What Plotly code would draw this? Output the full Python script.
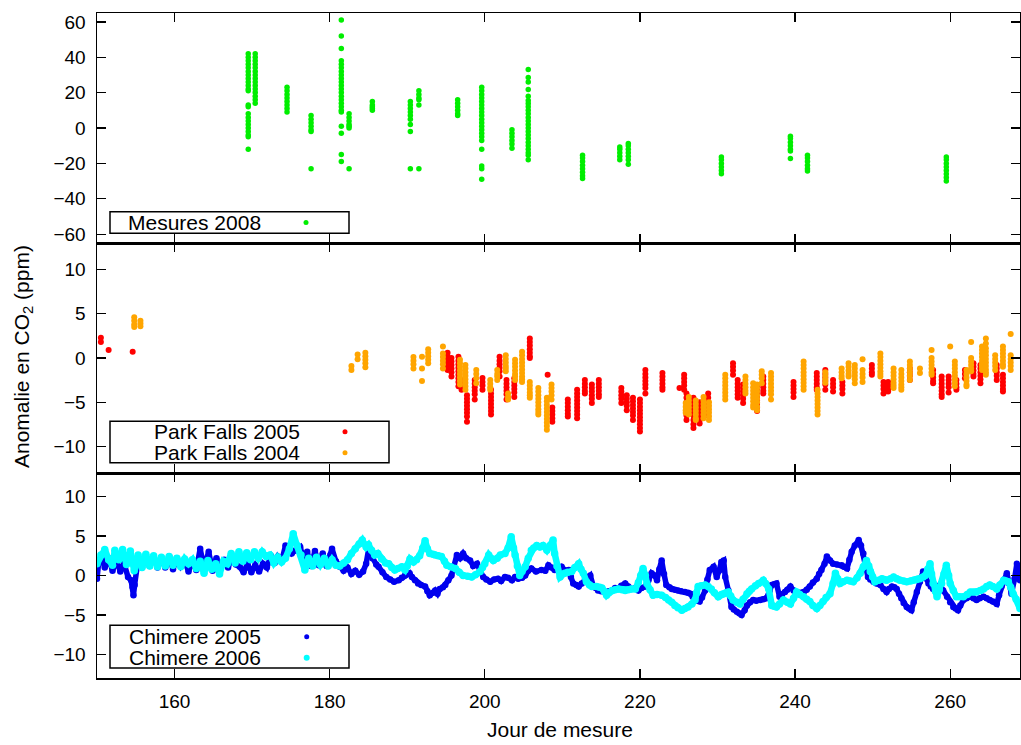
import plotly.graph_objects as go

# ---------------- data ----------------
# Mesures 2008: (day, [anomalies ppm])
mesures_2008 = [
    (169.5, [42, 40, 38, 36, 34, 32, 30, 28, 26, 24, 22, 21, 13, 12, 8, 6, 4, 2, 0, -2, -4, -5, -12]),
    (170.4, [42, 40, 38, 36, 34, 32, 30, 28, 26, 24, 22, 20, 18, 16, 14]),
    (174.5, [23, 21, 19, 17, 15, 13, 11, 9]),
    (177.6, [7, 5, 3, 1, -1, -2, -23]),
    (181.5, [61, 52, 45, 38, 36, 34, 32, 30, 28, 26, 24, 22, 20, 18, 16, 14, 12, 10, 9, 1, -3, -15, -19]),
    (182.5, [8, 6, 4, 2, 1, 0, -23]),
    (185.5, [15, 13, 12, 11, 10]),
    (190.4, [15, 13, 11, 9, 7, 5, 2, -2, -23]),
    (191.5, [21, 19, 17, 16, 13, -23]),
    (196.5, [16, 14, 12, 10, 8, 7]),
    (199.6, [23, 21, 19, 17, 15, 13, 11, 9, 7, 5, 3, 1, -1, -3, -5, -7, -12, -21.5, -23, -29]),
    (203.5, [-1, -3, -5, -7, -9, -11.5]),
    (205.6, [33, 28.5, 26, 21.7, 18, 15.6, 13.8, 12, 10, 8, 6, 4, 2, 0, -2, -4, -6, -8, -10, -12, -14, -15.4, -18]),
    (212.6, [-15.4, -17, -19, -21, -23, -25, -27, -28.6]),
    (217.4, [-10.7, -12, -14, -16, -18]),
    (218.5, [-8.8, -10, -12, -14, -16, -18, -20.5]),
    (230.5, [-16.4, -18, -20, -22, -24, -25.8]),
    (239.4, [-4.7, -6, -8, -10, -12, -13, -17.3]),
    (241.6, [-15.4, -17, -19, -21, -23, -24.3]),
    (259.5, [-16.4, -18, -20, -22, -24, -26, -28, -30]),
]

# Park Falls 2005 (red)
park_falls_2005 = [
    (150.5, [2.3, 1.8]), (151.5, [0.9]), (154.6, [0.7]),
    (195.2, [0.6, 0.2, -0.2, -0.6, -1.0, -1.35]),
    (195.7, [0.0, -0.4, -0.8, -1.2, -1.6, -2.1]),
    (196.6, [0.15, -0.3, -0.7, -1.1, -1.5, -1.9, -2.3, -2.7, -3.2]),
    (197.0, [-2.5, -3.0, -3.6]),
    (197.7, [-4.2, -4.6, -5.0, -5.4, -5.8, -6.2, -6.6, -7.2]),
    (198.7, [-2.5, -2.9, -3.3, -3.7, -4.1, -4.7]),
    (199.7, [-2.25, -2.7, -3.1, -3.6]),
    (200.8, [-3.6, -4.0, -4.4, -4.8, -5.2, -5.6, -6.0, -6.4]),
    (201.9, [0.15, -0.3, -0.7, -1.1, -1.5, -2.1]),
    (202.8, [-2.5, -2.9, -3.3, -3.7, -4.1, -4.7]),
    (203.8, [-2.3, -2.7, -3.1, -3.5, -3.9, -4.4]),
    (205.8, [2.2, 1.8, 1.4, 1.0, 0.6, 0.2, 0.0]),
    (208.1, [-1.9]),
    (208.7, [-5.6, -6.0, -6.4, -6.8, -7.2]),
    (210.7, [-4.7, -5.1, -5.5, -5.9, -6.3, -6.6]),
    (211.9, [-3.6, -4.0, -4.4, -4.8, -5.2, -5.6, -6.0, -6.4, -6.8]),
    (212.9, [-2.5, -2.9, -3.3, -3.7, -4.0]),
    (213.8, [-3.0, -3.4, -3.8, -4.2, -4.6, -5.1]),
    (214.7, [-2.5, -2.9, -3.3, -3.7, -4.1, -4.4]),
    (217.6, [-3.4, -3.8, -4.2, -4.6, -5.1]),
    (218.3, [-4.2, -4.6, -5.0, -5.4, -5.9]),
    (219.1, [-4.5, -4.9, -5.3, -5.7, -6.1, -6.5, -7.0]),
    (220.0, [-4.7, -5.1, -5.5, -5.9, -6.3, -6.7, -7.1, -7.5, -7.9, -8.3]),
    (220.7, [-1.35, -1.8, -2.2, -2.6, -3.0, -3.4, -4.0]),
    (222.9, [-1.7, -2.1, -2.5, -2.9, -3.3, -3.6]),
    (225.1, [-3.4]),
    (225.7, [-1.9, -2.3, -2.7, -3.1, -3.6]),
    (226.0, [-4.0, -4.5, -5.0, -5.5, -6.0, -6.5, -7.0]),
    (226.9, [-4.5, -5.0, -5.5, -6.0, -6.5, -7.0, -7.5, -7.9]),
    (227.7, [-5.0, -5.5, -6.0, -6.5, -7.0, -7.4]),
    (228.8, [-4.0, -4.5, -5.0, -5.5, -6.0, -6.5]),
    (232.0, [-0.6, -1.0, -1.4, -1.9]),
    (232.6, [-2.5, -2.9, -3.3, -3.7, -4.1, -4.5]),
    (233.3, [-3.0, -3.4, -3.8, -4.2, -4.6, -5.1]),
    (235.1, [-3.2, -3.6, -4.0, -4.4, -4.8, -5.2, -5.6, -6.0]),
    (235.9, [-2.1, -2.5, -2.9, -3.3, -3.7, -4.0]),
    (239.8, [-2.7, -3.1, -3.5, -3.9, -4.4]),
    (242.8, [-1.7, -2.1, -2.5, -2.9, -3.3, -3.6]),
    (243.9, [-1.35, -1.8, -2.2, -2.6, -3.0, -3.6]),
    (244.9, [-2.5, -2.9, -3.3, -3.8]),
    (246.1, [-2.7, -3.1, -3.5, -4.0]),
    (249.9, [-0.8, -1.2, -1.6, -1.9]),
    (251.4, [-2.7, -3.1, -3.5, -4.0]),
    (252.0, [-2.7, -3.1, -3.5, -3.8]),
    (254.8, [-1.2, -1.6, -2.0, -2.5]),
    (257.8, [-1.35, -1.8, -2.2, -2.6, -2.85]),
    (258.9, [-2.1, -2.5, -2.9, -3.3, -3.7, -4.1, -4.4]),
    (259.8, [-2.1, -2.5, -2.9, -3.3, -3.9]),
    (260.8, [-2.5, -2.9, -3.3, -3.6]),
    (261.9, [-1.35, -1.8, -2.3]),
    (263.0, [-0.6, -1.0, -1.4, -1.8, -2.1]),
    (263.9, [-0.8, -1.2, -1.6, -2.0, -2.4, -2.85]),
    (266.0, [-0.8, -1.2, -1.6, -2.0, -2.5]),
    (266.8, [-1.9, -2.3, -2.7, -3.1, -3.5, -3.8]),
]

# Park Falls 2004 (orange)
park_falls_2004 = [
    (154.8, [4.6, 4.2, 3.8, 3.5]), (155.6, [4.2, 3.9, 3.6]),
    (182.8, [-0.9, -1.35]), (183.6, [0.4, -0.15]),
    (184.6, [0.6, 0.2, -0.2, -0.6, -1.05]),
    (190.8, [0.1, -0.3, -0.7, -1.2]),
    (191.9, [0.15, -1.2, -2.6]),
    (192.7, [1.0, 0.6, 0.2, -0.2, -0.6]),
    (194.6, [1.3, 0.5, 0.1, -0.3, -0.7, -1.2]),
    (196.8, [-0.2, -0.6, -1.0, -1.4, -1.8, -2.2, -2.6, -3.0]),
    (197.5, [-0.8, -1.2, -1.6, -2.0, -2.4, -2.8, -3.2, -3.6]),
    (198.9, [-1.35, -1.8, -2.3, -2.85]),
    (200.7, [-2.5, -2.9, -3.3, -3.6]),
    (201.6, [-1.35, -1.8, -2.1, -2.5]),
    (202.7, [0.3, -0.1, -0.5, -0.9, -1.2, -1.5]),
    (203.0, [-4.0, -4.4, -4.7]),
    (203.9, [-0.2, -0.6, -1.0, -1.4, -1.8, -2.1, -2.5]),
    (204.8, [0.7, 0.3, -0.1, -0.5, -0.9, -1.3, -1.7, -2.1, -2.4, -2.7]),
    (205.8, [-2.7, -3.1, -3.5, -3.9, -4.2, -4.5]),
    (206.9, [-3.4, -3.8, -4.2, -4.6, -5.0, -5.4, -5.8, -6.1, -6.4]),
    (208.0, [-4.5, -4.9, -5.3, -5.7, -6.1, -6.5, -6.9, -7.3, -7.7, -8.1]),
    (208.6, [-3.0, -3.4, -3.8, -4.2, -4.7]),
    (225.9, [-5.1, -5.5, -5.9, -6.2]),
    (226.3, [-4.4, -4.8, -5.2, -5.6, -6.0, -6.4]),
    (227.2, [-4.8, -5.2, -5.6, -6.0, -6.4, -6.8, -7.0]),
    (228.2, [-4.4, -4.8, -5.2, -5.6, -6.0, -6.4, -6.8]),
    (228.9, [-5.0, -5.4, -5.8, -6.2, -6.6, -7.0]),
    (231.0, [-1.9, -2.3, -2.7, -3.1, -3.5, -3.9, -4.3, -4.7]),
    (233.6, [-2.1, -2.5, -2.9, -3.3, -3.7, -4.0]),
    (234.6, [-2.85, -3.3, -3.7, -4.1, -4.5, -4.9, -5.3, -5.6]),
    (235.1, [-3.0, -3.4, -3.8, -4.2, -4.6, -5.0, -5.5, -5.9]),
    (235.7, [-1.5, -1.9, -2.3, -2.85]),
    (236.9, [-1.7, -2.1, -2.5, -2.9, -3.3, -3.7, -4.1, -4.7]),
    (241.1, [-0.4, -0.8, -1.2, -1.6, -2.0, -2.4, -2.8, -3.2, -3.6]),
    (242.9, [-3.6, -4.0, -4.4, -4.8, -5.2, -5.6, -6.0, -6.4]),
    (243.9, [-1.6, -2.0, -2.4, -2.8]),
    (246.0, [-1.2, -1.6, -2.0, -2.3]),
    (246.9, [-0.6, -1.0, -1.4, -1.8, -2.1]),
    (247.7, [-0.8, -1.2, -1.6, -2.0, -2.4, -2.85]),
    (248.7, [-0.15, -1.35, -1.8, -2.2, -2.7]),
    (251.0, [0.5, 0.1, -0.3, -0.7, -1.1, -1.5, -1.8, -2.1]),
    (252.7, [-1.2, -1.6, -2.0, -2.4, -2.8, -3.1, -3.4]),
    (253.7, [-1.35, -1.8, -2.2, -2.6, -3.0, -3.3, -3.6]),
    (254.8, [-0.4, -0.8, -1.2, -1.6, -2.0, -2.5]),
    (256.1, [-1.2, -1.7]),
    (257.6, [0.9, 0.0, -0.4, -0.8, -1.2, -1.6, -1.9]),
    (260.0, [1.3]),
    (260.6, [-0.4, -0.8, -1.2, -1.6, -2.0, -2.4, -2.8, -3.2]),
    (262.1, [-1.35, -1.8, -2.2, -2.6, -3.0, -3.2]),
    (262.7, [1.8, 0.0, -0.4, -0.8, -1.2, -1.5]),
    (264.1, [1.3, 0.9, 0.5, 0.1, -0.3, -0.7, -1.0, -1.35]),
    (264.6, [2.2, 1.65, 1.1, 0.7, 0.3, -0.1, -0.5, -0.9, -1.3, -1.6, -1.9]),
    (265.8, [0.3, -0.1, -0.5, -0.9, -1.35]),
    (266.8, [1.3, 0.9, 0.5, 0.1, -0.3, -0.7, -1.0]),
    (267.8, [2.7, 0.3, -0.1, -0.5, -0.9, -1.35]),
]

# Chimere 2005 (blue): (day, anomaly)
chimere_2005 = [
    (150.0,-0.4),(150.2,1.5),(150.6,2.5),(151.0,1.0),(151.5,2.2),(152.0,0.6),(152.5,2.0),(153.0,0.5),
    (153.5,1.5),(154.0,-0.2),(154.4,-0.6),(154.6,-1.5),(154.7,-2.5),(154.85,-1.2),(155.0,0.5),(155.3,2.0),
    (155.8,1.0),(156.3,2.6),(156.8,1.2),(157.3,2.4),(157.8,1.0),(158.3,2.2),(158.8,1.0),(159.3,2.4),
    (159.8,0.8),(160.3,2.2),(160.8,1.2),(161.3,1.9),(161.8,0.5),(162.3,1.8),(162.8,0.7),(163.3,3.4),
    (163.8,1.0),(164.4,3.0),(164.9,0.6),(165.4,2.2),(165.9,0.8),(166.4,2.0),(166.9,1.0),(167.4,2.4),
    (167.9,1.4),(168.4,1.1),(168.9,0.4),(169.4,1.5),(169.9,0.4),(170.4,1.3),(170.9,0.5),(171.4,1.5),
    (171.9,1.0),(172.4,2.5),(172.9,1.6),(173.3,2.4),(173.8,1.8),(174.3,3.8),(174.8,3.2),(175.1,2.8),
    (175.6,3.2),(176.2,3.6),(176.6,2.2),(177.1,3.0),(177.6,1.2),(178.1,3.1),(178.6,1.3),(179.1,2.8),
    (179.6,1.2),(180.1,2.6),(180.3,3.4),(180.8,1.8),(181.3,1.1),(181.8,0.6),(182.3,1.0),(182.8,0.2),
    (183.3,0.6),(183.8,0.1),(184.3,0.5),(184.7,1.5),(185.0,3.2),(185.5,2.2),(186.0,1.4),(186.3,1.1),
    (186.8,0.4),(187.3,-0.2),(187.8,-0.5),(188.3,-0.8),(188.9,-0.6),(189.3,-0.3),(189.7,0.0),(190.3,0.3),
    (190.6,-0.2),(191.0,-0.6),(191.4,-1.0),(191.8,-1.2),(192.3,-1.4),(192.6,-2.0),(192.9,-2.5),(193.3,-2.2),
    (193.6,-1.9),(193.9,-2.3),(194.2,-1.7),(194.6,-1.5),(194.9,-1.2),(195.3,-0.6),(195.7,0.0),(196.0,1.2),
    (196.4,2.6),(196.8,2.2),(197.2,2.8),(197.6,2.2),(198.1,1.9),(198.5,1.2),(199.0,1.5),(199.4,0.6),
    (199.8,-0.2),(200.2,-0.5),(200.7,-0.8),(201.2,-0.5),(201.7,-0.4),(202.1,-0.7),(202.6,-0.2),(203.0,-0.3),
    (203.5,-0.6),(203.9,-0.2),(204.3,-0.4),(204.8,-0.3),(205.2,0.0),(205.6,0.6),(206.0,0.9),(206.6,0.5),
    (207.3,0.7),(207.8,0.6),(208.2,1.3),(208.6,1.0),(209.0,0.7),(209.5,0.8),(209.9,1.1),(210.4,0.6),
    (210.8,0.7),(211.1,-0.2),(211.4,-1.0),(211.8,-1.2),(212.1,-1.4),(212.5,-1.0),(212.9,-0.6),(213.3,-0.2),
    (213.6,0.0),(214.0,-1.4),(214.3,-1.6),(214.6,-1.9),(215.0,-2.0),(215.5,-2.1),(216.0,-2.0),(216.4,-1.9),
    (216.8,-1.6),(217.2,-1.7),(217.6,-1.3),(218.1,-1.0),(218.5,-1.4),(218.9,-1.7),(219.4,-1.6),(219.8,-1.9),
    (220.2,-1.6),(220.7,-1.4),(221.1,-0.6),(221.5,0.3),(221.9,0.0),(222.2,-0.6),(222.5,0.8),(222.8,1.9),
    (223.1,0.2),(223.4,-1.2),(223.8,-1.5),(224.1,-1.7),(224.5,-1.8),(224.9,-1.9),(225.3,-2.0),(225.8,-2.1),
    (226.2,-2.2),(226.5,-2.3),(226.8,-2.7),(227.1,-3.1),(227.4,-3.2),(227.7,-3.3),(228.0,-2.8),(228.4,-1.9),
    (228.7,-0.5),(229.0,0.7),(229.5,1.1),(229.9,-0.2),(230.2,0.6),(230.5,1.7),(230.8,1.9),(231.0,-0.2),
    (231.4,-1.9),(231.8,-4.0),(232.1,-4.3),(232.5,-4.6),(232.8,-4.8),(233.1,-5.0),(233.5,-4.4),(233.8,-3.8),
    (234.2,-3.4),(234.6,-3.1),(235.0,-3.2),(235.5,-3.1),(235.9,-3.0),(236.3,-2.9),(236.7,-2.0),(237.0,-1.2),
    (237.3,-1.1),(237.6,-1.0),(238.0,-2.7),(238.3,-2.4),(238.7,-2.1),(239.0,-1.8),(239.4,-1.4),(239.8,-1.9),
    (240.2,-2.3),(240.6,-2.2),(241.1,-2.1),(241.5,-1.8),(241.9,-1.4),(242.3,-0.9),(242.8,-0.4),(243.1,0.2),
    (243.4,0.7),(243.8,1.5),(244.1,2.4),(244.5,1.9),(244.9,1.5),(245.4,1.4),(246.0,1.3),(246.3,1.1),
    (246.7,0.9),(247.0,2.0),(247.3,3.0),(247.7,3.8),(248.2,4.5),(248.5,3.8),(248.8,2.8),(249.1,1.2),
    (249.4,-0.2),(249.7,-0.5),(250.1,-0.8),(250.5,-1.0),(251.0,-1.2),(251.4,-1.7),(251.8,-2.1),(252.1,-1.7),
    (252.5,-1.4),(252.8,-1.5),(253.1,-1.7),(253.4,-2.3),(253.7,-2.9),(254.0,-3.5),(254.4,-4.0),(254.7,-4.2),
    (255.0,-4.4),(255.3,-3.4),(255.7,-2.1),(256.1,-0.8),(256.5,0.5),(256.8,-0.3),(257.2,-1.0),(257.5,-1.4),
    (257.8,-1.7),(258.2,-1.4),(258.7,-1.2),(259.1,-1.9),(259.6,-2.7),(260.0,-3.4),(260.4,-4.0),(260.7,-4.2),
    (261.0,-4.4),(261.3,-3.8),(261.7,-3.1),(262.1,-2.9),(262.6,-2.7),(263.0,-2.9),(263.4,-3.1),(263.8,-2.9),
    (264.3,-2.7),(264.7,-2.9),(265.1,-3.1),(265.5,-3.3),(266.0,-3.6),(266.3,-2.5),(266.6,-1.4),(267.0,-0.5),
    (267.3,0.3),(267.6,-1.0),(267.9,-2.3),(268.3,-0.4),(268.6,1.5),(268.8,0.5),(269.0,-0.6),
]

# Chimere 2006 (cyan): (day, anomaly)
chimere_2006 = [
    (150.0,1.5),(150.5,2.6),(151.0,3.3),(151.5,2.0),(152.0,1.3),(152.3,3.2),(152.8,2.0),(153.3,3.3),
    (153.8,1.4),(154.3,3.1),(154.8,0.6),(155.3,2.6),(155.8,1.0),(156.3,2.7),(156.8,1.2),(157.3,2.5),
    (157.8,1.1),(158.3,2.3),(158.8,1.2),(159.3,2.4),(159.8,1.3),(160.3,2.2),(160.8,1.1),(161.3,2.1),
    (161.8,1.5),(162.3,2.0),(162.8,0.9),(163.3,1.8),(163.8,0.3),(164.3,1.9),(164.8,0.8),(165.3,1.5),
    (165.8,0.2),(166.3,1.8),(166.8,1.5),(167.3,2.8),(167.8,1.6),(168.3,3.0),(168.8,1.8),(169.3,2.9),
    (169.8,2.0),(170.3,3.0),(170.8,2.2),(171.3,3.0),(171.8,2.4),(172.3,2.6),(172.8,1.6),(173.3,2.3),
    (173.8,1.7),(174.3,2.2),(174.8,3.4),(175.3,5.3),(175.8,3.8),(176.3,2.6),(176.8,0.7),(177.3,2.2),
    (177.8,1.2),(178.3,2.3),(178.8,1.4),(179.3,2.2),(179.8,1.2),(180.3,2.0),(180.8,1.3),(181.3,1.2),
    (181.8,1.6),(182.3,2.0),(182.8,2.8),(183.3,3.4),(183.8,4.0),(184.2,4.5),(184.7,3.6),(185.0,3.9),
    (185.4,3.2),(185.8,2.6),(186.2,2.8),(186.7,2.1),(187.2,1.6),(187.6,1.5),(188.0,1.0),(188.4,0.7),
    (188.8,0.9),(189.3,1.1),(189.7,0.7),(190.0,1.2),(190.35,2.1),(190.8,1.7),(191.2,2.0),(191.6,2.5),
    (192.0,3.5),(192.3,4.4),(192.6,3.4),(192.9,2.8),(193.3,2.7),(193.6,2.6),(194.0,2.5),(194.4,2.4),
    (194.8,1.8),(195.1,1.3),(195.6,1.1),(196.2,0.9),(196.7,0.4),(197.2,0.0),(197.8,-0.1),(198.3,-0.2),
    (198.8,0.1),(199.4,0.5),(199.7,1.0),(200.0,1.5),(200.5,2.6),(200.8,2.2),(201.1,1.9),(201.6,2.2),
    (202.0,2.6),(202.6,2.8),(203.0,3.5),(203.4,4.9),(203.7,3.5),(203.9,2.6),(204.2,1.2),(204.5,0.0),
    (204.8,0.5),(205.2,1.1),(205.6,2.2),(206.0,3.2),(206.3,3.5),(206.7,3.8),(207.1,3.6),(207.5,3.8),
    (208.0,3.2),(208.4,3.8),(208.8,4.5),(209.0,2.8),(209.3,1.2),(209.7,-0.2),(210.3,0.3),(210.7,0.4),
    (211.2,0.5),(211.6,1.0),(212.1,1.5),(212.4,0.8),(212.7,0.3),(213.1,-0.8),(213.5,-1.2),(213.8,-1.4),
    (214.4,-1.4),(214.8,-1.5),(215.1,-1.6),(215.4,-2.0),(215.7,-2.5),(216.0,-2.2),(216.4,-1.9),(216.8,-1.8),
    (217.2,-1.7),(217.7,-1.8),(218.1,-1.9),(218.5,-1.8),(218.9,-1.7),(219.4,-1.7),(219.8,-0.9),(220.1,0.0),
    (220.4,0.9),(220.7,0.0),(220.9,-1.0),(221.3,-1.8),(221.7,-2.5),(222.2,-2.4),(222.8,-2.5),(223.3,-2.8),
    (223.7,-3.1),(224.1,-3.4),(224.5,-3.8),(224.9,-4.1),(225.4,-4.4),(225.8,-4.2),(226.2,-4.0),(226.7,-3.6),
    (227.1,-3.1),(227.3,-2.2),(227.5,-1.4),(227.9,-1.3),(228.4,-1.2),(228.8,-1.4),(229.2,-1.7),(229.6,-2.2),
    (230.1,-2.7),(230.5,-2.4),(230.8,-2.3),(231.1,-2.2),(231.4,-2.1),(231.7,-2.6),(232.0,-3.1),(232.5,-3.4),
    (232.9,-3.6),(233.3,-3.0),(233.8,-2.3),(234.1,-2.0),(234.4,-1.7),(234.9,-1.3),(235.3,-1.0),(235.9,-0.6),
    (236.2,-1.0),(236.6,-1.7),(237.0,-3.8),(237.3,-3.9),(237.6,-4.0),(238.0,-3.6),(238.5,-3.1),(239.0,-3.4),
    (239.4,-3.6),(239.8,-2.9),(240.2,-2.1),(240.6,-2.4),(241.1,-2.7),(241.5,-3.0),(241.9,-3.3),(242.3,-3.8),
    (242.8,-4.2),(243.2,-3.8),(243.6,-3.3),(244.0,-2.8),(244.5,-2.3),(244.9,-1.0),(245.2,0.3),(245.5,-0.4),
    (245.8,-1.0),(246.2,-0.8),(246.7,-0.6),(247.1,-0.7),(247.5,-0.8),(248.0,-0.3),(248.4,0.3),(248.8,1.1),
    (249.2,1.9),(249.5,1.2),(249.7,0.5),(250.0,-0.2),(250.3,-0.8),(250.8,-0.6),(251.2,-0.4),(251.5,-0.5),
    (251.8,-0.6),(252.3,-0.4),(252.7,-0.2),(253.1,-0.4),(253.5,-0.6),(254.0,-0.7),(254.4,-0.8),(254.9,-0.7),
    (255.3,-0.6),(255.7,-0.5),(256.1,-0.4),(256.5,-0.2),(256.8,0.0),(257.1,0.8),(257.4,1.5),(257.6,0.2),
    (257.8,-1.0),(258.1,-2.0),(258.3,-2.7),(258.6,-1.8),(258.9,-1.0),(259.2,0.2),(259.5,1.3),(259.8,0.0),
    (260.0,-1.0),(260.4,-1.9),(260.8,-2.7),(261.2,-2.7),(261.7,-2.7),(262.2,-2.4),(262.6,-2.1),(263.0,-2.1),
    (263.4,-2.1),(263.9,-1.9),(264.3,-1.7),(264.7,-1.4),(265.1,-1.2),(265.5,-1.4),(266.0,-1.7),(266.4,-1.2),
    (266.9,-0.6),(267.2,-0.7),(267.5,-0.8),(267.8,-1.5),(268.1,-2.3),(268.5,-3.0),(269.0,-4.2),
]

x_ticks = [160, 180, 200, 220, 240, 260]
y_ticks_top = [-60, -40, -20, 0, 20, 40, 60]
y_ticks_low = [-10, -5, 0, 5, 10]

# ---------------- helpers ----------------
def expand(clusters):
    xs, ys = [], []
    for d, vals in clusters:
        for v in vals:
            xs.append(d)
            ys.append(v)
    return xs, ys

def unzip(pairs):
    return [p[0] for p in pairs], [p[1] for p in pairs]

GREEN, RED, ORANGE, BLUE, CYAN = "#00ee00", "#ff0000", "#ffa500", "#0000ee", "#00ffff"
FONT = "Liberation Sans, Arial, Helvetica, sans-serif"

fig = go.Figure()

mx, my = expand(mesures_2008)
fig.add_trace(go.Scatter(x=mx, y=my, mode="markers", xaxis="x3", yaxis="y3",
                         marker=dict(color=GREEN, size=5.5, line=dict(width=0)), name="Mesures 2008"))

rx, ry = expand(park_falls_2005)
fig.add_trace(go.Scatter(x=rx, y=ry, mode="markers", xaxis="x2", yaxis="y2",
                         marker=dict(color=RED, size=6, line=dict(width=0)), name="Park Falls 2005"))
ox, oy = expand(park_falls_2004)
fig.add_trace(go.Scatter(x=ox, y=oy, mode="markers", xaxis="x2", yaxis="y2",
                         marker=dict(color=ORANGE, size=6, line=dict(width=0)), name="Park Falls 2004"))

bx, by = unzip(chimere_2005)
fig.add_trace(go.Scatter(x=bx, y=by, mode="lines+markers", xaxis="x", yaxis="y",
                         line=dict(color=BLUE, width=5.5), marker=dict(color=BLUE, size=6.5, line=dict(width=0)),
                         name="Chimere 2005"))
cx, cy = unzip(chimere_2006)
fig.add_trace(go.Scatter(x=cx, y=cy, mode="lines+markers", xaxis="x", yaxis="y",
                         line=dict(color=CYAN, width=6.5), marker=dict(color=CYAN, size=7.5, line=dict(width=0)),
                         name="Chimere 2006"))

# ---------------- layout ----------------
W, H = 1021, 745
L, R, T, B = 97, 1, 13, 67
PW, PH = W - L - R, H - T - B

def fx(px):
    return (px - L) / PW

def fy(py):
    return (H - B - py) / PH

dom_bot = [0, fy(473)]
dom_mid = [fy(473), fy(243)]
dom_top = [fy(243), 1]

axis_common = dict(showline=True, linecolor="black", linewidth=1.5, mirror="ticks",
                   ticks="inside", ticklen=9, tickwidth=1.3, tickcolor="black",
                   showgrid=False, zeroline=False, automargin=False,
                   tickfont=dict(family=FONT, size=19, color="black"))

xcommon = dict(axis_common, range=[150, 269], tickvals=x_ticks)
fig.update_layout(
    template="none",
    xaxis=dict(xcommon, anchor="y", domain=[0, 1], ticklabelstandoff=6),
    xaxis2=dict(xcommon, anchor="y2", domain=[0, 1], matches="x", showticklabels=False),
    xaxis3=dict(xcommon, anchor="y3", domain=[0, 1], matches="x", showticklabels=False),
    yaxis=dict(axis_common, anchor="x", domain=dom_bot, range=[-13, 13], tickvals=y_ticks_low,
               ticklabelstandoff=6),
    yaxis2=dict(axis_common, anchor="x2", domain=dom_mid, range=[-13, 13], tickvals=y_ticks_low,
                ticklabelstandoff=6),
    yaxis3=dict(axis_common, anchor="x3", domain=dom_top, range=[-65, 65], tickvals=y_ticks_top,
                ticklabelstandoff=6),
)

shapes = []
annotations = []

def legend_box(x0, x1, y0, y1):
    shapes.append(dict(type="rect", xref="paper", yref="paper",
                       x0=fx(x0), x1=fx(x1), y0=fy(y1), y1=fy(y0),
                       line=dict(color="black", width=1.5), fillcolor="white", layer="above"))

def legend_entry(text, text_right, dot_x, row_y, color, size):
    annotations.append(dict(text=text, xref="paper", yref="paper", x=fx(text_right), y=fy(row_y),
                            xanchor="right", yanchor="middle", showarrow=False,
                            font=dict(family=FONT, size=21, color="black")))
    r = size / 2
    shapes.append(dict(type="circle", xref="paper", yref="paper",
                       xsizemode="pixel", ysizemode="pixel",
                       xanchor=fx(dot_x), yanchor=fy(row_y),
                       x0=-r, x1=r, y0=-r, y1=r,
                       fillcolor=color, line=dict(width=0), layer="above"))

legend_box(110, 349, 211.7, 233.3)
legend_entry("Mesures 2008", 263, 306, 222.5, GREEN, 5)

legend_box(110, 389, 421.3, 462.7)
legend_entry("Park Falls 2005", 302, 345, 431.7, RED, 5)
legend_entry("Park Falls 2004", 302, 345, 452.7, ORANGE, 5)

legend_box(110, 349, 625.3, 668)
legend_entry("Chimere 2005", 263, 306.7, 636.7, BLUE, 5)
legend_entry("Chimere 2006", 263, 306.7, 657.7, CYAN, 6)

annotations.append(dict(text="Anomalie en CO<sub>2</sub> (ppm)", xref="paper", yref="paper",
                        x=fx(23), y=fy(357), xanchor="center", yanchor="middle", textangle=-90,
                        showarrow=False, font=dict(family=FONT, size=21, color="black")))
annotations.append(dict(text="Jour de mesure", xref="paper", yref="paper",
                        x=fx(560), y=fy(729), xanchor="center", yanchor="middle",
                        showarrow=False, font=dict(family=FONT, size=21, color="black")))

fig.update_layout(
    width=W, height=H,
    margin=dict(l=L, r=R, t=T, b=B, pad=0),
    paper_bgcolor="white", plot_bgcolor="white",
    showlegend=False,
    shapes=shapes, annotations=annotations,
    font=dict(family=FONT, color="black"),
)

# remove the default 8px page margin so the figure sits at the window's top-left corner
fig.write_html("out.html",
               config={"displayModeBar": False, "staticPlot": True},
               post_script="document.body.style.margin='0';document.body.style.overflow='hidden';")
